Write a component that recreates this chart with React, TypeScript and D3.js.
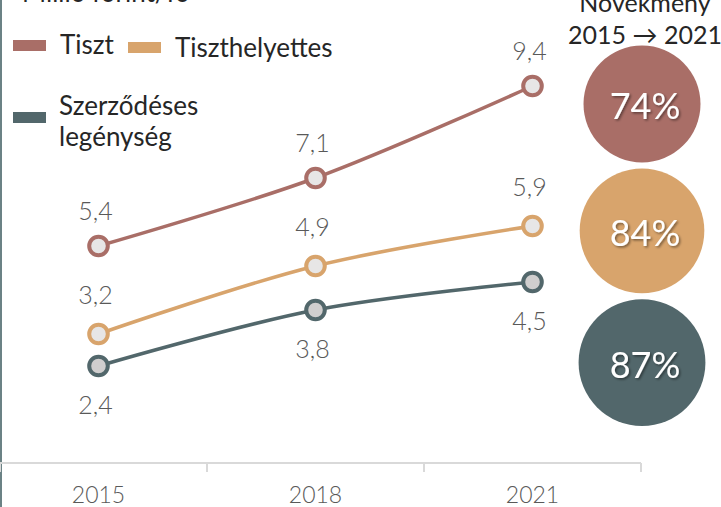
import * as d3 from 'd3';

// Years on the x axis
const years = ['2015', '2018', '2021'];

// Series (million HUF per person)
const seriesNames = ['Tiszt', 'Tiszthelyettes', 'Szerződéses legénység'];
const tisztValues = [5.4, 7.1, 9.4];
const tiszthelyettesValues = [3.2, 4.9, 5.9];
const szerzodesesValues = [2.4, 3.8, 4.5];

// Growth 2015 -> 2021 (%)
const growthPct = [74, 84, 87];

const COLORS = ['#a96e67', '#d8a46c', '#52676b'];
const MARKER_FILL = ['#e7e6e6', '#e7e6e6', '#d0cece'];

const width = 721;
const height = 507;
const FONT = 'Lato, "Open Sans", sans-serif';

export default function App() {
  const series = [tisztValues, tiszthelyettesValues, szerzodesesValues];

  const x = d3.scaleBand<string>().domain(years).range([-10, 641]).padding(0);
  const y = d3.scaleLinear().domain([0, 10]).range([462, 62]);
  const r = d3.scaleSqrt().domain([0, 100]).range([0, 68]);

  const cx = (yr: string) => (x(yr) ?? 0) + x.bandwidth() / 2;

  const line = d3
    .line<number>()
    .x((_, i) => cx(years[i]))
    .y((d) => y(d))
    .curve(d3.curveCatmullRom.alpha(0.5));

  // label offsets: top two series above the point, last one below
  const labelDy = [-36, -40, 38];

  // stack the growth bubbles down the right side
  const bubbleGap = 6;
  const bubbles: { cy: number; rad: number; pct: number }[] = [];
  growthPct.forEach((p, i) => {
    const rad = r(p);
    const cy = i === 0 ? 104 : bubbles[i - 1].cy + bubbles[i - 1].rad + bubbleGap + rad;
    bubbles.push({ cy, rad, pct: p });
  });

  const tickXs = [0, ...years.map((yr) => (x(yr) ?? 0) + x.bandwidth())];

  return (
    <svg
      width={width}
      height={height}
      style={{ position: 'absolute', left: 0, top: 0, background: '#fff' }}
      fontFamily={FONT}
    >
      <defs>
        <filter id="shadow" x="-20%" y="-20%" width="140%" height="140%">
          <feDropShadow dx="1.5" dy="1.5" stdDeviation="1" floodColor="#000" floodOpacity="0.45" />
        </filter>
      </defs>

      {/* left border */}
      <rect x={0} y={0} width={2} height={height} fill="#6b8285" />

      {/* unit title (cut at top) */}
      <text x={22} y={2} fontSize={26} fill="#262626">
        Millió forint/fő
      </text>

      {/* legend */}
      <rect x={13} y={40} width={33} height={11} fill={COLORS[0]} />
      <text x={60} y={54} fontSize={26} fill="#262626">
        {seriesNames[0]}
      </text>
      <rect x={128} y={42} width={33} height={11} fill={COLORS[1]} />
      <text x={175} y={57} fontSize={26} fill="#262626">
        {seriesNames[1]}
      </text>
      <rect x={13} y={112} width={33} height={11} fill={COLORS[2]} />
      <text x={59} y={115} fontSize={26} fill="#262626">
        Szerződéses
      </text>
      <text x={59} y={146} fontSize={26} fill="#262626">
        legénység
      </text>

      {/* x axis */}
      <line x1={0} x2={641} y1={463} y2={463} stroke="#d9d9d9" strokeWidth={2} />
      {tickXs.map((tx, i) => (
        <line key={i} x1={tx} x2={tx} y1={463} y2={472} stroke="#d9d9d9" strokeWidth={2} />
      ))}
      {years.map((yr) => (
        <text key={yr} x={cx(yr)} y={503} textAnchor="middle" fontSize={23} fill="#595959" fontWeight={300}>
          {yr}
        </text>
      ))}

      {/* lines */}
      {series.map((vals, si) => (
        <path key={si} d={line(vals) ?? ''} fill="none" stroke={COLORS[si]} strokeWidth={3.5} />
      ))}

      {/* markers + labels */}
      {series.map((vals, si) =>
        vals.map((v, i) => (
          <g key={`${si}-${i}`}>
            <circle cx={cx(years[i])} cy={y(v)} r={9.3} fill={MARKER_FILL[si]} stroke={COLORS[si]} strokeWidth={4} />
            <text
              x={cx(years[i]) - 3}
              y={y(v) + labelDy[si]}
              textAnchor="middle"
              dominantBaseline="central"
              fontSize={25}
              fontWeight={300}
              fill="#595959"
            >
              {v.toFixed(1).replace('.', ',')}
            </text>
          </g>
        ))
      )}

      {/* growth header */}
      <text x={645} y={12} textAnchor="middle" fontSize={25} fill="#262626">
        Növekmény
      </text>
      <text x={645} y={44} textAnchor="middle" fontSize={25} fill="#262626">
        2015 → 2021
      </text>

      {/* growth bubbles */}
      {bubbles.map((b, i) => (
        <g key={i}>
          <circle cx={642} cy={b.cy} r={b.rad} fill={COLORS[i]} />
          <text
            x={645}
            y={b.cy + 1}
            textAnchor="middle"
            dominantBaseline="central"
            fontSize={36}
            fill="#fff"
            filter="url(#shadow)"
          >
            {b.pct}%
          </text>
        </g>
      ))}
    </svg>
  );
}
